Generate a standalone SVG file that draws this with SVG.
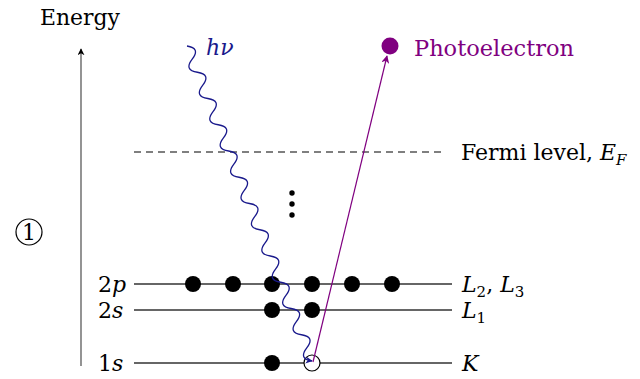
<svg xmlns="http://www.w3.org/2000/svg" width="640" height="379" viewBox="0 0 640 379">
<style>
text{font-size:22px;fill:#000}
.m{font-style:italic}
.n{font-style:normal}
.lvl{stroke:#333;stroke-width:1.3;fill:none}
.e{fill:#000}
</style>
<defs>
<marker id="ak" viewBox="0 0 10 10" refX="9" refY="5" markerWidth="7" markerHeight="7" orient="auto" markerUnits="userSpaceOnUse"><path d="M0,0 L10,5 L0,10 L3,5 z" fill="#000"/></marker>
<marker id="ab" viewBox="0 0 10 10" refX="9" refY="5" markerWidth="7" markerHeight="7" orient="auto" markerUnits="userSpaceOnUse"><path d="M0,0 L10,5 L0,10 L3,5 z" fill="#1a1a8c"/></marker>
<marker id="ap" viewBox="0 0 10 10" refX="9" refY="5" markerWidth="8" markerHeight="8" orient="auto" markerUnits="userSpaceOnUse"><path d="M0,0 L10,5 L0,10 L3,5 z" fill="#800080"/></marker>
</defs>

<g id="energy-label"><text x="40" y="25" style="font-family:'DejaVu Serif'" textLength="80" lengthAdjust="spacingAndGlyphs">Energy</text></g>
<g id="step-1">
<circle cx="29" cy="232" r="13" fill="none" stroke="#000" stroke-width="1.2"/>
<text x="29" y="240" text-anchor="middle" style="font-family:'DejaVu Serif'">1</text>
</g>

<g id="fermi">
<line x1="134" y1="152" x2="446" y2="152" stroke="#000" stroke-width="1.1" stroke-dasharray="7,5"/>
<text x="461" y="160" style="font-family:'DejaVu Serif'">Fermi level, <tspan class="m">E</tspan><tspan font-size="15" dy="5" class="m">F</tspan></text>
</g>

<g id="level-2p">
<line class="lvl" x1="134" y1="284" x2="452" y2="284"/>
<text x="98" y="292" style="font-family:'DejaVu Serif'">2<tspan class="m">p</tspan></text>
<text class="m" x="462" y="292" style="font-family:'DejaVu Serif'">L<tspan class="n" font-size="15" dy="5">2</tspan><tspan class="n" dy="-5">, </tspan>L<tspan class="n" font-size="15" dy="5">3</tspan></text>
<circle class="e" cx="193" cy="284" r="8"/>
<circle class="e" cx="233" cy="284" r="8"/>
<circle class="e" cx="272" cy="284" r="8"/>
<circle class="e" cx="312" cy="284" r="8"/>
<circle class="e" cx="352" cy="284" r="8"/>
<circle class="e" cx="392" cy="284" r="8"/>
</g>

<g id="level-2s">
<line class="lvl" x1="134" y1="310" x2="452" y2="310"/>
<text x="98" y="318" style="font-family:'DejaVu Serif'">2<tspan class="m">s</tspan></text>
<text class="m" x="462" y="318" style="font-family:'DejaVu Serif'">L<tspan class="n" font-size="15" dy="5">1</tspan></text>
<circle class="e" cx="272" cy="310" r="8"/>
<circle class="e" cx="312" cy="310" r="8"/>
</g>

<g id="level-1s">
<line class="lvl" x1="134" y1="363" x2="452" y2="363"/>
<text x="98" y="371" style="font-family:'DejaVu Serif'">1<tspan class="m">s</tspan></text>
<text class="m" x="462" y="371" style="font-family:'DejaVu Serif'">K</text>
<circle class="e" cx="272" cy="363" r="8"/>
<circle cx="312" cy="363" r="8" fill="#fff" stroke="#000" stroke-width="1.2"/>
</g>

<g id="vdots">
<circle class="e" cx="292" cy="193" r="2.7"/>
<circle class="e" cx="292" cy="204" r="2.7"/>
<circle class="e" cx="292" cy="215" r="2.7"/>
</g>

<g id="photoelectron">
<circle cx="390" cy="46" r="8.5" fill="#800080"/>
<text x="414" y="56" style="fill:#800080;font-family:'DejaVu Serif'" textLength="160" lengthAdjust="spacingAndGlyphs">Photoelectron</text>
</g>

<g id="photon-label"><text class="m" x="206" y="55" style="fill:#1a1a8c;font-family:'DejaVu Serif'">hν</text></g>

<g id="connectors">
<line x1="81" y1="366" x2="81" y2="49" stroke="#666" stroke-width="1.4" marker-end="url(#ak)"/>
<g transform="translate(187,46) rotate(68.36)">
<path d="M0,0 c4.71,-8 9.41,-8 14.12,0 s9.41,8 14.12,0 s9.41,-8 14.12,0 s9.41,8 14.12,0 s9.41,-8 14.12,0 s9.41,8 14.12,0 s9.41,-8 14.12,0 s9.41,8 14.12,0 s9.41,-8 14.12,0 s9.41,8 14.12,0 s9.41,-8 14.12,0 s9.41,8 14.12,0 s9.41,-8 14.12,0 s9.41,8 14.12,0 s9.41,-8 14.12,0 s9.41,8 14.12,0 s9.41,-8 14.12,0 s9.41,8 14.12,0 s9.41,-8 14.12,0 s9.41,8 14.12,0 s9.41,-8 14.12,0 s9.41,8 14.12,0 s9.41,-8 14.12,0 s9.41,8 14.12,0" fill="none" stroke="#1a1a8c" stroke-width="1.3" marker-end="url(#ab)"/>
</g>
<line x1="313" y1="362" x2="387" y2="56" stroke="#800080" stroke-width="1.2" marker-end="url(#ap)"/>
</g>
</svg>
